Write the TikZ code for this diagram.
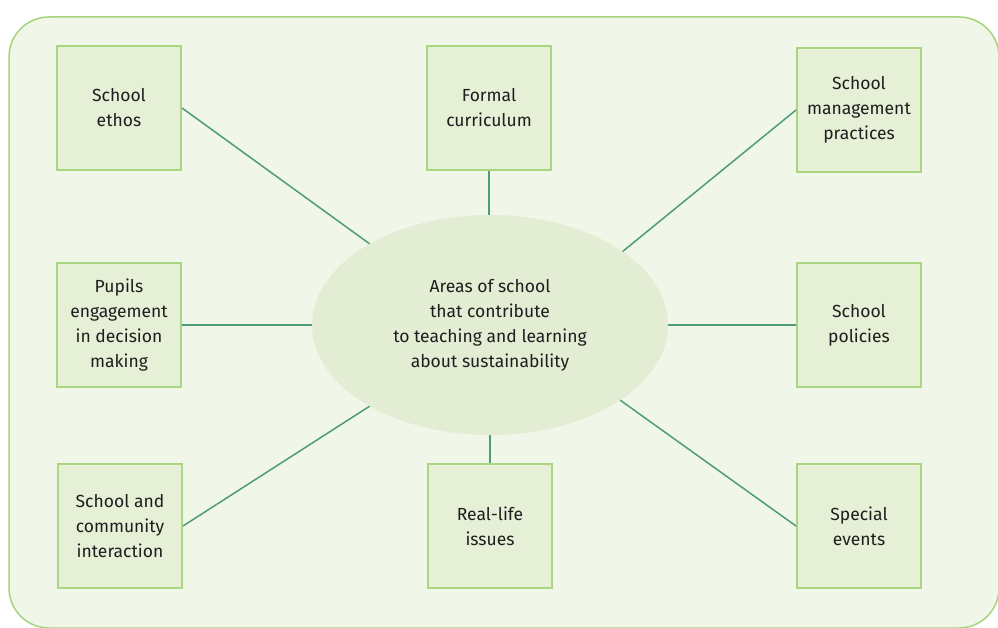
\documentclass[tikz,border=0pt]{standalone}
\usepackage{fontspec}
\setmainfont{Fira Sans}
\usetikzlibrary{shapes.geometric}
\definecolor{outerfill}{HTML}{F0F6E8}
\definecolor{outerline}{HTML}{A6D37C}
\definecolor{boxfill}{HTML}{E5F0D6}
\definecolor{boxline}{HTML}{AAD682}
\definecolor{ellfill}{HTML}{E3EDD3}
\definecolor{linkcol}{HTML}{4F9B7A}
\definecolor{txt}{HTML}{1E1E1E}
\tikzset{
  areabox/.style={draw=boxline, fill=boxfill, line width=2pt, minimum width=124pt, minimum height=124pt, inner sep=0pt, align=center, text=txt, font=\fontsize{17.5}{25}\selectfont},
  hub/.style={ellipse, fill=ellfill, minimum width=356pt, minimum height=220pt, inner sep=0pt, align=center, text=txt, font=\fontsize{17.5}{25}\selectfont},
  link/.style={draw=linkcol, line width=1.5pt}
}
\begin{document}
\begin{tikzpicture}[x=1pt,y=-1pt]
\useasboundingbox (0,0) rectangle (998,628);
\fill[white] (0,0) rectangle (998,628);
\draw[draw=outerline, fill=outerfill, line width=1.5pt, rounded corners=40pt] (9,17) rectangle (999,628);
\node[hub] (c) at (490,325) {Areas of school\\that contribute\\to teaching and learning\\about sustainability};
\node[areabox] (ethos) at (119,108) {School\\ethos};
\node[areabox] (formal) at (489,108) {Formal\\curriculum};
\node[areabox] (manage) at (859,110) {School\\management\\practices};
\node[areabox] (pupils) at (119,325) {Pupils\\engagement\\in decision\\making};
\node[areabox] (policies) at (859,325) {School\\policies};
\node[areabox] (community) at (120,526) {School and\\community\\interaction};
\node[areabox] (reallife) at (490,526) {Real-life\\issues};
\node[areabox] (special) at (859,526) {Special\\events};
\draw[link] (ethos.east) -- (c.146);
\draw[link] (formal.south) -- (formal.south |- c.north);
\draw[link] (manage.west) -- (c.29);
\draw[link] (pupils.east) -- (c.west);
\draw[link] (policies.west) -- (c.east);
\draw[link] (community.east) -- (c.214);
\draw[link] (reallife.north) -- (reallife.north |- c.south);
\draw[link] (special.west) -- (c.-30);
\end{tikzpicture}
\end{document}
